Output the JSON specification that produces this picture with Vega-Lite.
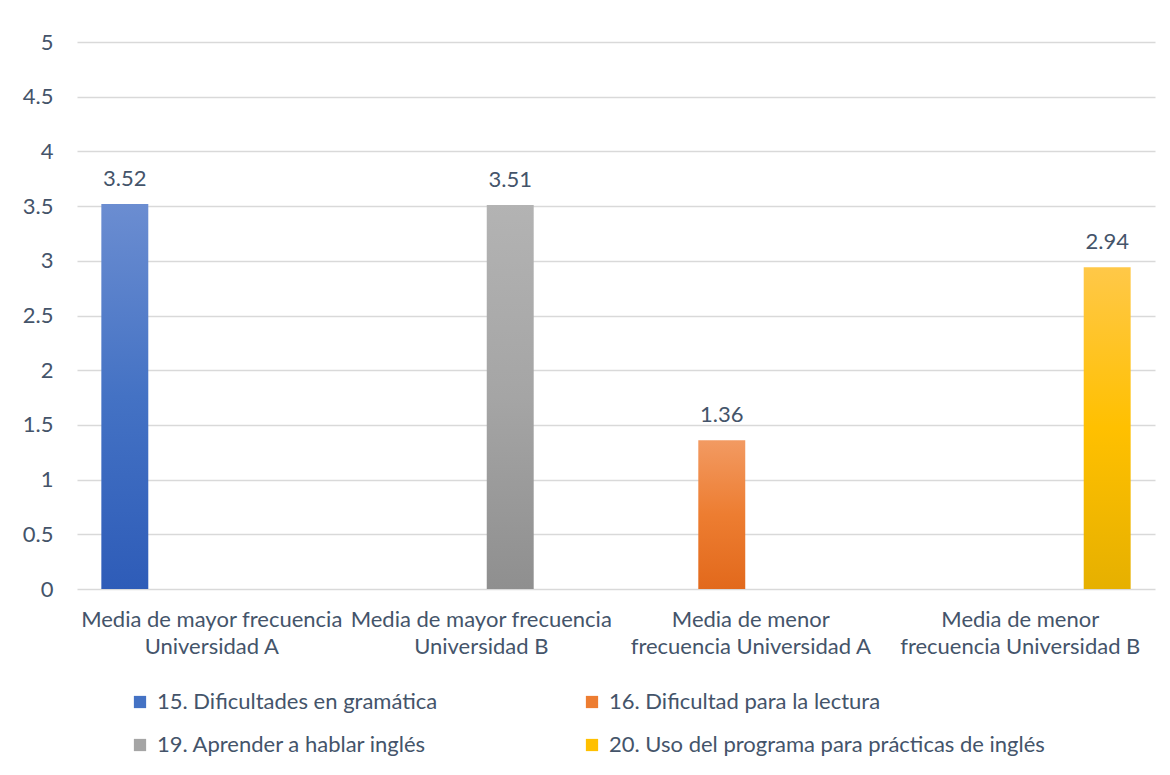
{
  "$schema": "https://vega.github.io/schema/vega-lite/v6.json",
  "autosize": {"type": "none"},
  "width": 1078,
  "height": 547,
  "padding": {"left": 77, "top": 42, "right": 15, "bottom": 186},
  "background": "white",
  "data": {
    "values": [
      {"categoria": "Media de mayor frecuencia Universidad A", "serie": "15. Dificultades en gramática", "media": 3.52},
      {"categoria": "Media de mayor frecuencia Universidad B", "serie": "19. Aprender a hablar inglés", "media": 3.51},
      {"categoria": "Media de menor frecuencia Universidad A", "serie": "16. Dificultad para la lectura", "media": 1.36},
      {"categoria": "Media de menor frecuencia Universidad B", "serie": "20. Uso del programa para prácticas de inglés", "media": 2.94}
    ]
  },
  "encoding": {
    "x": {
      "field": "categoria",
      "type": "nominal",
      "sort": null,
      "scale": {"paddingInner": 0, "paddingOuter": 0},
      "axis": {
        "title": null,
        "labelAngle": 0,
        "labelFont": "Lato",
        "labelFontSize": 22,
        "labelColor": "#44546a",
        "labelPadding": 20,
        "labelLineHeight": 27,
        "labelLimit": 400,
        "domain": false,
        "ticks": false,
        "grid": false,
        "labelExpr": "indexof(datum.label, 'mayor') >= 0 ? [substring(datum.label, 0, 25), substring(datum.label, 26)] : [substring(datum.label, 0, 14), substring(datum.label, 15)]"
      }
    },
    "xOffset": {
      "field": "serie",
      "type": "nominal",
      "scale": {
        "domain": ["15. Dificultades en gramática", "16. Dificultad para la lectura", "19. Aprender a hablar inglés", "20. Uso del programa para prácticas de inglés"],
        "paddingInner": 0.19,
        "paddingOuter": 0.42
      }
    },
    "y": {
      "field": "media",
      "type": "quantitative",
      "scale": {"domain": [0, 5], "nice": false},
      "axis": {
        "title": null,
        "values": [0, 0.5, 1, 1.5, 2, 2.5, 3, 3.5, 4, 4.5, 5],
        "format": ".1~f",
        "labelFont": "Lato",
        "labelFontSize": 22,
        "labelColor": "#44546a",
        "labelPadding": 24,
        "domain": false,
        "ticks": false,
        "grid": true,
        "gridColor": "#d9d9d9",
        "gridWidth": 1.3
      }
    }
  },
  "layer": [
    {
      "mark": {"type": "bar", "opacity": 0},
      "encoding": {
        "color": {
          "field": "serie",
          "type": "nominal",
          "scale": {
            "domain": ["15. Dificultades en gramática", "16. Dificultad para la lectura", "19. Aprender a hablar inglés", "20. Uso del programa para prácticas de inglés"],
            "range": ["#4472c4", "#ed7d31", "#a5a5a5", "#ffc000"]
          },
          "legend": {
            "title": null,
            "orient": "none",
            "direction": "horizontal",
            "legendX": 52,
            "legendY": 649,
            "columns": 2,
            "columnPadding": 143,
            "rowPadding": 21,
            "symbolType": "square",
            "symbolSize": 150,
            "symbolOpacity": 1,
            "symbolStrokeWidth": 0,
            "labelFont": "Lato",
            "labelFontSize": 22,
            "labelColor": "#44546a",
            "labelOffset": 6,
            "labelLimit": 600
          }
        }
      }
    },
    {
      "mark": {"type": "bar"},
      "encoding": {
        "fill": {
          "condition": [
            {"test": "datum.serie === '15. Dificultades en gramática'", "value": {"gradient": "linear", "x1": 0, "y1": 0, "x2": 0, "y2": 1, "stops": [{"offset": 0, "color": "#6b8dd1"}, {"offset": 0.5, "color": "#4472c4"}, {"offset": 1, "color": "#2e5cb8"}]}},
            {"test": "datum.serie === '16. Dificultad para la lectura'", "value": {"gradient": "linear", "x1": 0, "y1": 0, "x2": 0, "y2": 1, "stops": [{"offset": 0, "color": "#f29a62"}, {"offset": 0.5, "color": "#ed7d31"}, {"offset": 1, "color": "#e2691c"}]}},
            {"test": "datum.serie === '19. Aprender a hablar inglés'", "value": {"gradient": "linear", "x1": 0, "y1": 0, "x2": 0, "y2": 1, "stops": [{"offset": 0, "color": "#b3b3b3"}, {"offset": 0.5, "color": "#a5a5a5"}, {"offset": 1, "color": "#8f8f8f"}]}}
          ],
          "value": {"gradient": "linear", "x1": 0, "y1": 0, "x2": 0, "y2": 1, "stops": [{"offset": 0, "color": "#ffc848"}, {"offset": 0.5, "color": "#ffc000"}, {"offset": 1, "color": "#e6b000"}]}
        }
      }
    },
    {
      "mark": {"type": "text", "baseline": "alphabetic", "dy": -18, "font": "Lato", "fontSize": 22, "color": "#44546a"},
      "encoding": {
        "text": {"field": "media", "type": "quantitative", "format": ".2f"}
      }
    }
  ],
  "config": {"view": {"stroke": null}}
}
